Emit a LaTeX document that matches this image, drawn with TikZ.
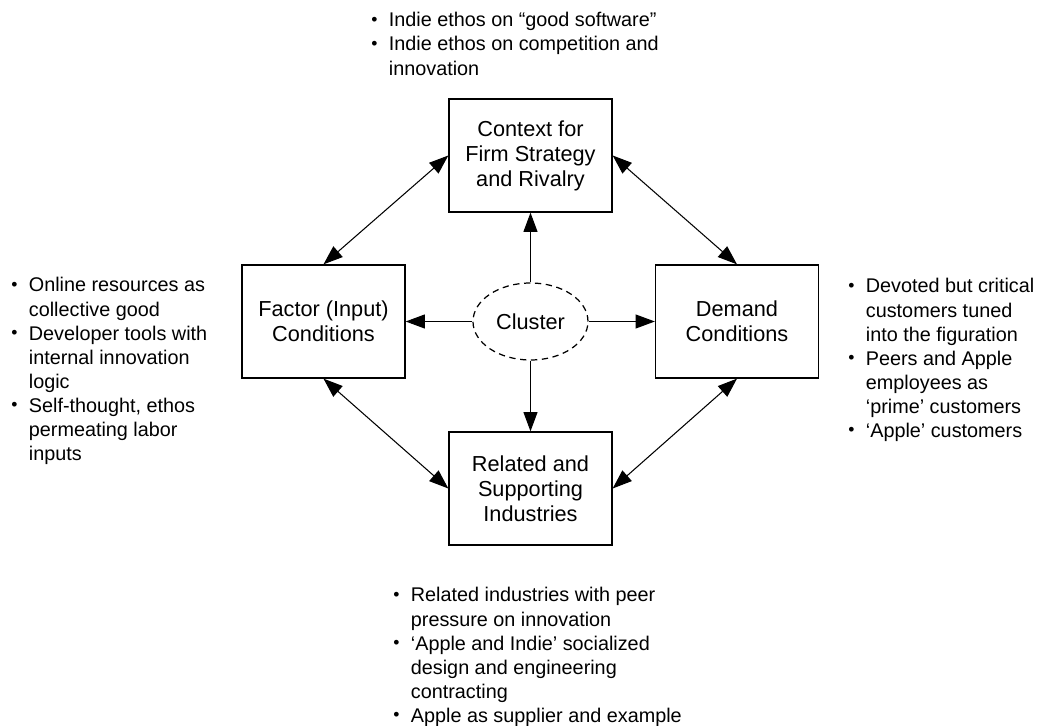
\documentclass[tikz,border=0pt]{standalone}
\usepackage{fontspec}
\setmainfont{Liberation Sans}
\usetikzlibrary{shapes.geometric,arrows.meta}

\newcommand{\bitem}{\makebox[10pt][l]{\raisebox{0.6pt}{\fontsize{10}{10}\selectfont\textbullet}}}
\newcommand{\bgap}{\hspace*{10pt}}

\begin{document}
\begin{tikzpicture}[>={Triangle[length=11pt,width=8pt]}]
% Define the node styles
\tikzstyle{block} = [draw, rectangle, minimum width=3.26cm, minimum height=2.26cm, line width=0.75pt, align=center, font=\fontsize{12.35}{14.23}\selectfont]
\tikzstyle{cluster} = [draw, ellipse, minimum width=2.3cm, minimum height=1.54cm, inner sep=0pt, line width=0.7pt, dash pattern=on 3.6pt off 2.6pt, font=\fontsize{12.35}{14.23}\selectfont]
\tikzstyle{notes} = [anchor=base west, inner sep=0pt, font=\fontsize{11.27}{13.66}\selectfont]
\tikzstyle{link} = [line width=0.6pt]

\useasboundingbox (-10.61,-8.09) rectangle (10.13,6.43);

% Define the nodes
\node[cluster] (C) at (0, 0) {Cluster};
\node[block] (ctx) at (0, 3.32) {Context for\\Firm Strategy\\and Rivalry};
\node[block] (fac) at (-4.14, 0) {Factor (Input)\\Conditions};
\node[block] (dem) at (4.13, 0) {Demand\\Conditions};
\node[block] (rel) at (0, -3.34) {Related and\\Supporting\\Industries};

% Define the notes
\node[notes] (ctxnote) at (-3.19, 5.89) {\begin{tabular}[t]{@{}l@{}}
\bitem Indie ethos on ``good software''\\
\bitem Indie ethos on competition and\\
\bgap innovation
\end{tabular}};
\node[notes] (facnote) at (-10.39, 0.59) {\begin{tabular}[t]{@{}l@{}}
\bitem Online resources as\\
\bgap collective good\\
\bitem Developer tools with\\
\bgap internal innovation\\
\bgap logic\\
\bitem Self-thought, ethos\\
\bgap permeating labor\\
\bgap inputs
\end{tabular}};
\node[notes] (demnote) at (6.35, 0.57) {\begin{tabular}[t]{@{}l@{}}
\bitem Devoted but critical\\
\bgap customers tuned\\
\bgap into the figuration\\
\bitem Peers and Apple\\
\bgap employees as\\
\bgap `prime' customers\\
\bitem `Apple' customers
\end{tabular}};
\node[notes] (relnote) at (-2.75, -5.61) {\begin{tabular}[t]{@{}l@{}}
\bitem Related industries with peer\\
\bgap pressure on innovation\\
\bitem `Apple and Indie' socialized\\
\bgap design and engineering\\
\bgap contracting\\
\bitem Apple as supplier and example
\end{tabular}};

% Define the transitions
\draw[link, ->] (C) -- (ctx);
\draw[link, ->] (C) -- (fac);
\draw[link, ->] (C) -- (dem);
\draw[link, ->] (C) -- (rel);

\draw[link, <->] (ctx.west) -- (fac.north);
\draw[link, <->] (ctx.east) -- (dem.north);
\draw[link, <->] (fac.south) -- (rel.west);
\draw[link, <->] (dem.south) -- (rel.east);

\end{tikzpicture}
\end{document}
